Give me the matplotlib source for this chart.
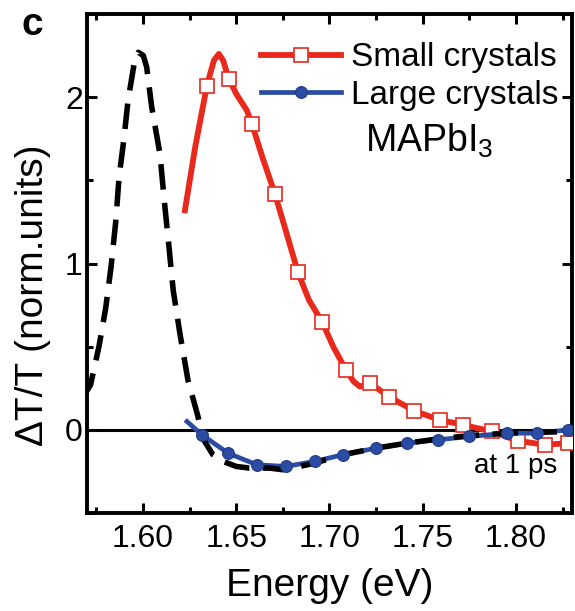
import matplotlib
matplotlib.use("Agg")
import matplotlib.pyplot as plt
from matplotlib.ticker import MultipleLocator

plt.rcParams['font.family'] = ['Liberation Sans', 'DejaVu Sans']
plt.rcParams['mathtext.fontset'] = 'custom'
plt.rcParams['mathtext.rm'] = 'Liberation Sans'
plt.rcParams['mathtext.it'] = 'Liberation Sans'

# ---- data ----
small_line_x = [1.6225, 1.628, 1.6343, 1.638, 1.6407, 1.643, 1.646, 1.650, 1.6557, 1.6584,
                1.664, 1.6707, 1.6765, 1.683, 1.689, 1.696, 1.702, 1.7088, 1.713, 1.7163,
                1.7217, 1.7318, 1.7452, 1.759, 1.7715, 1.787, 1.801, 1.8155, 1.8278, 1.835]
small_line_y = [1.32, 1.70, 2.07, 2.22, 2.26, 2.22, 2.11, 2.02, 1.92, 1.84,
                1.64, 1.42, 1.20, 0.95, 0.78, 0.65, 0.50, 0.36, 0.29, 0.26,
                0.28, 0.20, 0.115, 0.06, 0.03, -0.01, -0.066, -0.09, -0.08, -0.08]
small_mark_x = [1.6343, 1.646, 1.6584, 1.6707, 1.683, 1.696, 1.7088, 1.7217, 1.7318,
                1.7452, 1.759, 1.7715, 1.787, 1.801, 1.8155, 1.8278]
small_mark_y = [2.07, 2.11, 1.84, 1.42, 0.95, 0.65, 0.36, 0.28, 0.20,
                0.115, 0.06, 0.03, -0.01, -0.066, -0.09, -0.08]

large_x = [1.6236, 1.6316, 1.6456, 1.661, 1.6766, 1.692, 1.707, 1.725, 1.7415,
           1.758, 1.775, 1.795, 1.811, 1.828]
large_y = [0.05, -0.03, -0.14, -0.21, -0.22, -0.19, -0.15, -0.11, -0.08,
           -0.06, -0.04, -0.02, -0.02, 0.0]

dash_x = [1.568, 1.5719, 1.5764, 1.580, 1.5829, 1.5854, 1.5872, 1.5898, 1.592, 1.5957,
          1.5975, 1.6002, 1.6020, 1.6047, 1.6091, 1.6114, 1.6136, 1.6162, 1.6198, 1.6241,
          1.6295, 1.632, 1.6375, 1.643, 1.650, 1.657, 1.668, 1.675, 1.684, 1.692,
          1.707, 1.725, 1.7415, 1.758, 1.775, 1.795, 1.811, 1.83]
dash_y = [0.20, 0.27, 0.50, 0.73, 0.98, 1.25, 1.52, 1.75, 1.98, 2.23,
          2.27, 2.25, 2.18, 1.94, 1.66, 1.38, 1.14, 0.84, 0.58, 0.30,
          0.08, -0.05, -0.15, -0.19, -0.22, -0.23, -0.23, -0.24, -0.22, -0.20,
          -0.15, -0.11, -0.08, -0.055, -0.035, -0.02, -0.015, -0.01]

x_ticks = [1.60, 1.65, 1.70, 1.75, 1.80]
x_tick_labels = ['1.60', '1.65', '1.70', '1.75', '1.80']
y_ticks = [0, 1, 2]
y_tick_labels = ['0', '1', '2']

RED = '#e8291c'
BLUE = '#2b4ca3'

fig = plt.figure(figsize=(5.75, 6.11), dpi=100)
ax = fig.add_axes([87/575, 1-513/611, (572-87)/575, (513-14)/611])

ax.axhline(0, color='black', lw=2.2, zorder=1)

ax.plot(dash_x, dash_y, color='black', lw=4.0, dashes=(4.6, 2.4), zorder=4,
        solid_capstyle='butt', dash_capstyle='butt')

ax.plot(small_line_x, small_line_y, color=RED, lw=4.2, zorder=2)
ax.plot(small_mark_x, small_mark_y, ls='none', marker='s', ms=10.5, mfc='white',
        mec=RED, mew=1.2, zorder=3)

ax.plot(large_x, large_y, color=BLUE, lw=3.4, zorder=3)
ax.plot(large_x[1:], large_y[1:], ls='none', marker='o', ms=8.5, mfc=BLUE,
        mec='#1f3a88', mew=0.8, zorder=5)

# legend proxies
h_small, = ax.plot([], [], color=RED, lw=4.2, marker='s', ms=10.5, mfc='white',
                   mec=RED, mew=1.2)
h_large, = ax.plot([], [], color=BLUE, lw=3.4, marker='o', ms=8.5, mfc=BLUE,
                   mec='#1f3a88', mew=0.8)
leg = ax.legend([h_small, h_large], ['Small crystals', 'Large crystals'],
                loc='upper right', bbox_to_anchor=(1.02, 0.99), frameon=False,
                fontsize=24, handlelength=2.4, handletextpad=0.3,
                labelspacing=0.2, borderaxespad=0.3, markerscale=1.0,
                numpoints=1)

ax.text(0.573, 0.7234, 'MAPbI$_3$', transform=ax.transAxes, fontsize=27,
        ha='left', va='baseline')
ax.text(0.969, 0.094, 'at 1 ps', transform=ax.transAxes, fontsize=20,
        ha='right', va='center')

ax.set_xlim(1.57, 1.83)
ax.set_ylim(-0.5, 2.5)
ax.set_xticks(x_ticks)
ax.set_xticklabels(x_tick_labels)
ax.set_yticks(y_ticks)
ax.set_yticklabels(y_tick_labels)
ax.xaxis.set_minor_locator(MultipleLocator(0.025))
ax.yaxis.set_minor_locator(MultipleLocator(0.5))
ax.tick_params(which='both', direction='in', top=True, right=True, width=2.2,
               labelsize=23)
ax.tick_params(which='major', length=7)
ax.tick_params(which='minor', length=4)
ax.tick_params(axis='x', which='major', pad=8)
ax.tick_params(axis='y', which='major', pad=3)
for s in ax.spines.values():
    s.set_linewidth(2.8)

ax.set_xlabel('Energy (eV)', fontsize=28, labelpad=10)
ax.set_ylabel('ΔT/T (norm.units)', fontsize=28)
ax.yaxis.set_label_coords(-0.075, 0.437)

fig.text(32/575, 1-35/611, 'c', fontsize=28, fontweight='bold', ha='center',
         va='baseline')

fig.savefig('out.png', dpi=100)
